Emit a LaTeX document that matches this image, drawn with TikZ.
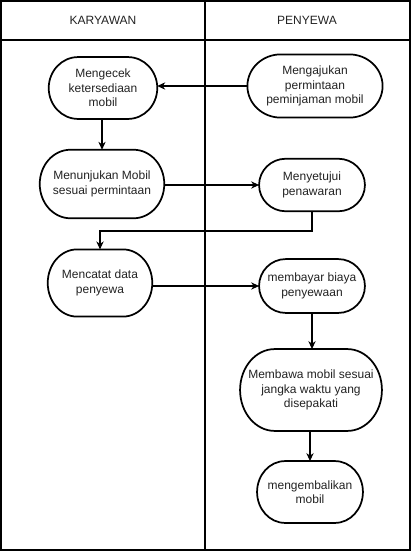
\documentclass[tikz,border=0pt]{standalone}
\usepackage{fontspec}
\setmainfont{Liberation Sans}
\usetikzlibrary{arrows.meta,calc}
\definecolor{inkgray}{HTML}{222222}
% outline with elliptical ends around an (invisible) activity node
\newcommand\stadiumframe[2]{%
  \draw[actline] let \p1=(#1.north west), \p2=(#1.south east),
    \n1={(\y1-\y2)/2} in
    (\x1+#2,\y1) -- (\x2-#2,\y1)
    arc[start angle=90, end angle=-90, x radius=#2, y radius=\n1]
    -- (\x1+#2,\y2)
    arc[start angle=270, end angle=90, x radius=#2, y radius=\n1]
    -- cycle;}
\begin{document}
\begin{tikzpicture}[x=0.75pt,y=-0.75pt,
  frame/.style={draw=black, line width=1pt},
  lanehead/.style={text=inkgray, font=\fontsize{9}{11}\selectfont},
  act/.style={align=center, inner sep=1pt, text=inkgray,
    font=\fontsize{9}{10.8}\selectfont},
  actline/.style={draw=black, line width=1.3pt},
  flow/.style={draw=black, line width=0.8pt, -{Stealth[length=6pt,width=5.5pt]}}]
  \useasboundingbox (0,0) rectangle (411,551);

  % swimlane frame
  \draw[frame] (1,1) rectangle (410,550);
  \draw[frame] (1,40) -- (410,40);
  \draw[frame] (205,1) -- (205,550);
  \node[lanehead] (hk) at (103,20) {KARYAWAN};
  \node[lanehead] (hp) at (307,20) {PENYEWA};

  % activities
  \node[act, minimum width=81pt, minimum height=46pt] (cek) at (103,88)
    {Mengecek\\ketersediaan\\mobil};
  \node[act, minimum width=101pt, minimum height=47pt] (aju) at (315,86)
    {Mengajukan\\permintaan\\peminjaman mobil};
  \node[act, minimum width=93pt, minimum height=51pt] (tunjuk) at (102,184)
    {Menunjukan Mobil\\sesuai permintaan};
  \node[act, minimum width=79pt, minimum height=39pt] (setuju) at (312,185)
    {Menyetujui\\penawaran};
  \node[act, minimum width=78pt, minimum height=50pt] (catat) at (100,283)
    {Mencatat data\\penyewa};
  \node[act, minimum width=79pt, minimum height=40pt] (bayar) at (312,286)
    {membayar biaya\\penyewaan};
  \node[act, minimum width=106pt, minimum height=61pt] (bawa) at (311,390)
    {Membawa mobil sesuai\\jangka waktu yang\\disepakati};
  \node[act, minimum width=79pt, minimum height=46pt] (kembali) at (310,492)
    {mengembalikan\\mobil};

  \stadiumframe{cek}{22pt}
  \stadiumframe{aju}{25pt}
  \stadiumframe{tunjuk}{23pt}
  \stadiumframe{setuju}{20pt}
  \stadiumframe{catat}{22pt}
  \stadiumframe{bayar}{20pt}
  \stadiumframe{bawa}{26pt}
  \stadiumframe{kembali}{21pt}

  % flows
  \coordinate (turn) at (100,231);
  \draw[flow] (aju.west) -- (cek.east |- aju.west);
  \draw[flow] (cek.south -| tunjuk.north) -- (tunjuk.north);
  \draw[flow] (tunjuk.east |- setuju.west) -- (setuju.west);
  \draw[flow] (setuju.south) |- (turn) -- (catat.north);
  \draw[flow] (catat.east |- bayar.west) -- (bayar.west);
  \draw[flow] (bayar.south) -- (bawa.north -| bayar.south);
  \draw[flow] (bawa.south -| kembali.north) -- (kembali.north);
\end{tikzpicture}
\end{document}
